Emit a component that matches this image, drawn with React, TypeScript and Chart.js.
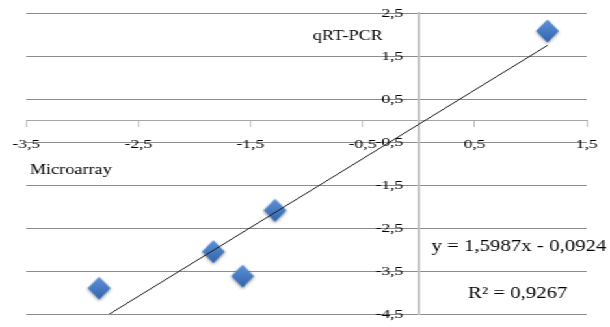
import { useEffect, useRef } from 'react';
import { Chart, registerables } from 'chart.js';

Chart.register(...registerables);

// Log-ratio values for the same genes measured by two methods
const microarray = [-2.85, -1.83, -1.57, -1.28, 1.15];
const qrtPcr = [-3.9, -3.05, -3.62, -2.09, 2.08];

const xTicks = [-3.5, -2.5, -1.5, -0.5, 0.5, 1.5];
const yTicks = [2.5, 1.5, 0.5, -0.5, -1.5, -2.5, -3.5, -4.5];

// Linear trendline
const trendSlope = 1.5987;
const trendIntercept = -0.0924;
const rSquared = 0.9267;

const xAxisTitle = 'Microarray';
const yAxisTitle = 'qRT-PCR';

// The chart is drawn narrow and widened with a horizontal stretch
const CANVAS_W = 469;
const CANVAS_H = 327;
const STRETCH = 610 / CANVAS_W;

const FONT = '"Liberation Serif", "Times New Roman", serif';

const commaDecimal = (v: number, digits: number) => v.toFixed(digits).replace('.', ',');

const equationText =
  'y = ' + commaDecimal(trendSlope, 4) + 'x ' + (trendIntercept < 0 ? '- ' : '+ ') +
  commaDecimal(Math.abs(trendIntercept), 4);
const rSquaredText = 'R\u00B2 = ' + commaDecimal(rSquared, 4);

function makeDiamond(): HTMLCanvasElement {
  const c = document.createElement('canvas');
  c.width = 26;
  c.height = 32;
  const g = c.getContext('2d')!;
  const cx = 13;
  const cy = 16;
  const hw = 8.8;
  const hh = 11.5;
  g.shadowColor = 'rgba(0,0,0,0.35)';
  g.shadowBlur = 3;
  g.shadowOffsetY = 1.5;
  const grad = g.createLinearGradient(0, cy - hh, 0, cy + hh);
  grad.addColorStop(0, '#5d92da');
  grad.addColorStop(1, '#3163a9');
  g.beginPath();
  g.moveTo(cx, cy - hh);
  g.lineTo(cx + hw, cy);
  g.lineTo(cx, cy + hh);
  g.lineTo(cx - hw, cy);
  g.closePath();
  g.fillStyle = grad;
  g.fill();
  return c;
}

const textPlugin = {
  id: 'chartTexts',
  afterDraw(chart: any) {
    const { ctx } = chart;
    ctx.save();
    ctx.fillStyle = '#000';
    ctx.textBaseline = 'middle';
    ctx.textAlign = 'left';
    ctx.font = '14px ' + FONT;
    ctx.fillText(xAxisTitle, 23, 170);
    ctx.fillText(yAxisTitle, 240.5, 36);
    ctx.font = '16px ' + FONT;
    ctx.textAlign = 'center';
    ctx.fillText(equationText, 399, 247);
    ctx.fillText(rSquaredText, 398, 294);
    ctx.restore();
  },
};

export default function App() {
  const canvasRef = useRef<HTMLCanvasElement | null>(null);

  useEffect(() => {
    if (!canvasRef.current) return;
    const xMin = Math.min(...microarray);
    const xMax = Math.max(...microarray);
    const trend = [
      { x: xMin, y: trendSlope * xMin + trendIntercept },
      { x: xMax, y: trendSlope * xMax + trendIntercept },
    ];
    const points = microarray.map((x, i) => ({ x, y: qrtPcr[i] }));
    const tickFont = { family: FONT, size: 13.5 };

    const chart = new Chart(canvasRef.current, {
      type: 'scatter',
      data: {
        datasets: [
          {
            type: 'line',
            label: 'Linear',
            data: trend,
            borderColor: '#1a1a1a',
            borderWidth: 1,
            pointRadius: 0,
            showLine: true,
            fill: false,
            order: 0,
          },
          {
            label: 'qRT-PCR',
            data: points,
            pointStyle: makeDiamond() as any,
            pointRadius: 12,
            order: 1,
          },
        ],
      },
      options: {
        animation: false,
        responsive: false,
        devicePixelRatio: 1,
        layout: { padding: { left: 17.4, right: 12.5, top: 12.3, bottom: 10.3 } },
        plugins: { legend: { display: false }, tooltip: { enabled: false } },
        scales: {
          x: {
            type: 'linear',
            position: { y: 0 } as any,
            min: -3.5,
            max: 1.5,
            afterBuildTicks: (s: any) => {
              s.ticks = xTicks.map((v) => ({ value: v }));
            },
            afterFit: (s: any) => {
              s.height = 0;
            },
            ticks: {
              font: tickFont,
              color: '#000',
              padding: 9.5,
              maxRotation: 0,
              autoSkip: false,
              callback: (v: any) => commaDecimal(Number(v), 1),
            },
            grid: { drawOnChartArea: false, drawTicks: true, tickLength: 6, color: '#bfbfbf', lineWidth: 1 },
            border: { display: true, color: '#a6a6a6', width: 1 },
          },
          y: {
            type: 'linear',
            axis: 'y',
            position: { x: -0.136 } as any,
            min: -4.5,
            max: 2.5,
            afterBuildTicks: (s: any) => {
              s.ticks = yTicks.map((v) => ({ value: v }));
            },
            afterFit: (s: any) => {
              s.width = 0;
            },
            ticks: {
              font: tickFont,
              color: '#000',
              autoSkip: false,
              callback: (v: any) => commaDecimal(Number(v), 1),
            },
            grid: { drawOnChartArea: true, drawTicks: false, color: '#8c8c8c', lineWidth: 1 },
            border: { display: false },
          },
          yLine: {
            type: 'linear',
            axis: 'y',
            position: { x: 0 } as any,
            min: -4.5,
            max: 2.5,
            afterFit: (s: any) => {
              s.width = 0;
            },
            ticks: { display: false },
            grid: { display: false },
            border: { display: true, color: '#c0c0c0', width: 2 },
          },
        },
      },
      plugins: [textPlugin],
    } as any);

    return () => chart.destroy();
  }, []);

  return (
    <div
      style={{
        position: 'absolute',
        left: 0,
        top: 0,
        width: CANVAS_W,
        height: CANVAS_H,
        transform: `scaleX(${STRETCH})`,
        transformOrigin: '0 0',
        background: '#fff',
      }}
    >
      <canvas ref={canvasRef} width={CANVAS_W} height={CANVAS_H} />
    </div>
  );
}
